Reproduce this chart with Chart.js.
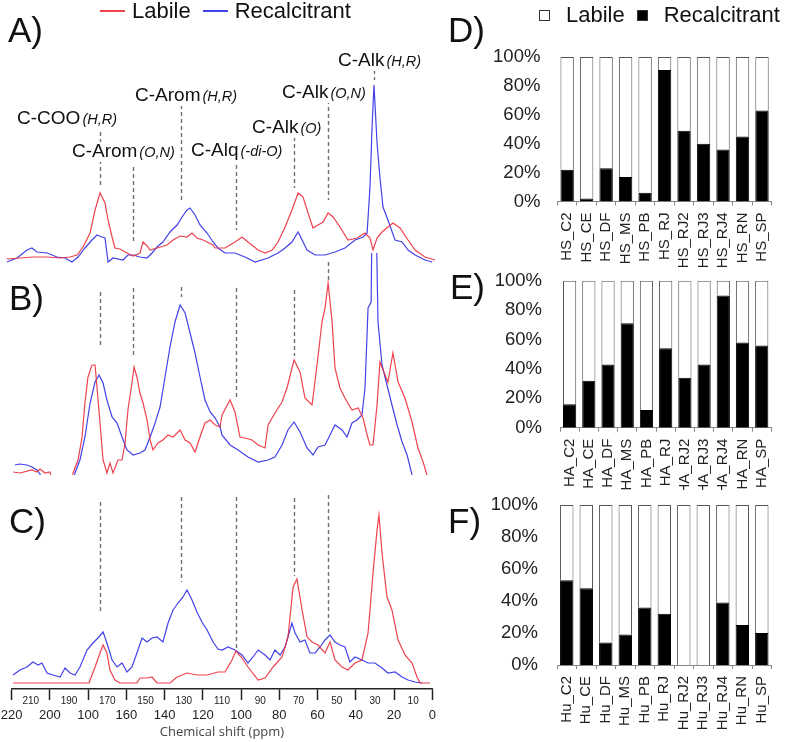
<!DOCTYPE html>
<html>
<head>
<meta charset="utf-8">
<title>Espectros y fracciones lábil / recalcitrante</title>
<script src="https://cdn.jsdelivr.net/npm/chart.js@4.4.6/dist/chart.umd.min.js"></script>
<style>
  body { margin: 0; background: #fff; }
  #wrap { position: relative; width: 787px; height: 742px; overflow: hidden; font-family: 'Liberation Sans', Arial, sans-serif; }
  #wrap canvas { position: absolute; }
  .panel { position: absolute; font-size: 35px; line-height: 1; color: #111; }
  .legend { position: absolute; font-size: 22px; line-height: 22px; color: #111; display: flex; align-items: center; white-space: nowrap; }
  #barLegend { left: 539px; top: 4px; }
  #barLegend .sw { display: inline-block; width: 9px; height: 9px; border: 1px solid #333; margin-right: 16px; }
  #barLegend .txt { margin-right: 12px; }
  #lineLegend { left: 100px; top: 0px; }
  #lineLegend .sw { display: inline-block; width: 25px; height: 2px; margin-right: 7px; }
  #lineLegend .txt { margin-right: 12px; }
</style>
</head>
<body>
<div id="wrap">
  <canvas id="chartA" width="440" height="279" style="left:0;top:-9px"></canvas>
  <canvas id="chartB" width="440" height="222" style="left:0;top:253px"></canvas>
  <canvas id="chartC" width="440" height="262" style="left:0;top:480px"></canvas>
  <canvas id="chartD" width="317" height="268" style="left:470px;top:0"></canvas>
  <canvas id="chartE" width="317" height="222" style="left:470px;top:268px"></canvas>
  <canvas id="chartF" width="317" height="252" style="left:470px;top:490px"></canvas>
  <div class="panel" style="left:8px;top:12px">A)</div>
  <div class="panel" style="left:9px;top:280px">B)</div>
  <div class="panel" style="left:9px;top:503px">C)</div>
  <div class="panel" style="left:448px;top:12px">D)</div>
  <div class="panel" style="left:450px;top:269px">E)</div>
  <div class="panel" style="left:448px;top:503px">F)</div>
  <div id="lineLegend" class="legend"></div>
  <div id="barLegend" class="legend"></div>
</div>
<script>
// series names
const seriesNames = ['Labile', 'Recalcitrant'];

// spectra: [chemical shift (ppm), intensity]
const labileA = [[222.6,6],[215.7,7],[208.9,8],[201.5,8],[194.7,7],[189.5,8],[185.8,10],[182.7,18],[179.0,32],[176.4,55],[173.8,72],[171.2,62],[169.6,45],[167.5,28],[166.0,17],[163.4,16],[159.7,12],[156.5,9],[152.9,12],[151.3,23],[149.2,19],[147.6,15],[144.0,17],[138.8,20],[135.6,25],[131.9,29],[128.3,28],[125.7,32],[123.1,27],[119.9,25],[114.7,20],[113.6,17],[108.4,17],[103.2,23],[99.5,28],[96.4,23],[91.1,15],[87.5,12],[83.8,15],[80.7,23],[77.0,38],[73.4,55],[70.2,72],[67.6,68],[65.0,52],[62.4,37],[59.8,40],[57.1,43],[54.5,52],[51.9,48],[48.3,38],[44.1,25],[39.4,27],[35.2,32],[32.6,27],[31.0,15],[28.9,27],[26.3,33],[23.2,38],[20.6,42],[16.9,37],[12.7,25],[9.0,15],[3.8,8],[-1.4,5]];
const recalA = [[222.5,3],[217.2,7],[212.0,15],[209.4,17],[206.8,13],[201.5,12],[196.3,8],[192.1,7],[188.5,3],[185.3,8],[181.7,17],[178.0,25],[175.4,30],[172.8,28],[171.2,27],[169.6,3],[167.0,7],[161.8,5],[159.2,10],[156.5,10],[152.9,8],[149.2,7],[146.6,12],[144.0,18],[140.9,23],[137.2,33],[133.5,40],[130.9,48],[128.3,55],[126.7,57],[124.1,50],[121.5,40],[117.8,32],[114.7,23],[112.1,17],[108.4,12],[103.2,12],[98.0,8],[92.7,3],[85.9,7],[80.7,12],[77.0,17],[73.4,23],[70.2,33],[68.1,25],[65.5,15],[61.3,10],[56.1,10],[50.9,13],[45.7,17],[40.4,25],[36.2,28],[34.1,32],[32.6,78],[31.5,138],[30.5,180],[28.9,122],[27.4,88],[25.8,58],[23.2,45],[19.5,25],[15.8,23],[12.7,15],[9.0,10],[3.8,5],[0.1,3]];

const labileB = [[219.3,3],[215.7,2],[209.4,5],[206.8,3],[205.2,6],[202.6,2],[200.0,3],[198.5,-10],[188.5,-10],[187.9,2],[185.3,15],[183.2,38],[181.7,72],[180.1,98],[178.0,110],[176.4,110],[175.4,88],[173.8,52],[172.2,15],[170.2,2],[168.6,12],[167.0,2],[164.4,15],[162.3,15],[160.7,32],[159.2,65],[157.1,92],[156.0,108],[154.5,98],[152.9,82],[151.3,72],[149.2,55],[147.6,35],[146.1,25],[143.5,32],[140.9,35],[138.2,40],[135.6,38],[131.9,45],[129.3,35],[126.7,32],[124.1,23],[121.5,38],[118.9,52],[116.2,55],[113.6,50],[111.0,48],[110.0,60],[105.8,75],[103.2,63],[100.6,38],[98.0,37],[94.3,35],[91.1,30],[87.5,27],[85.9,50],[82.3,62],[78.6,73],[76.0,87],[72.3,115],[69.2,103],[66.6,77],[62.9,70],[60.3,110],[57.7,153],[56.1,167],[54.5,192],[52.4,153],[50.9,107],[48.3,87],[45.7,77],[42.0,65],[38.8,67],[36.2,57],[34.1,40],[32.6,30],[31.0,30],[28.9,70],[27.4,113],[24.7,100],[23.2,93],[20.6,122],[17.9,93],[14.3,77],[10.6,53],[7.5,27],[4.8,13],[2.8,0],[0.0,-10]];
const recalB = [[218.3,10],[215.7,11],[212.0,10],[209.4,8],[206.8,5],[205.2,1],[204.2,-10],[187.9,-10],[186.9,2],[184.3,15],[181.7,38],[179.0,72],[176.4,93],[174.3,100],[172.2,92],[170.2,75],[167.5,58],[164.9,52],[162.3,38],[159.7,25],[156.5,20],[152.9,22],[150.3,25],[147.6,38],[145.0,52],[142.4,68],[139.8,98],[137.2,128],[134.6,153],[131.9,170],[129.3,162],[126.7,142],[124.1,122],[121.5,98],[118.9,75],[116.2,63],[113.6,57],[111.0,48],[110.0,40],[105.8,30],[101.6,25],[96.4,18],[91.1,13],[85.9,15],[82.3,18],[78.6,30],[75.5,45],[72.3,53],[69.2,43],[65.5,27],[62.4,20],[59.8,28],[56.1,30],[53.5,40],[50.9,50],[47.2,45],[44.6,38],[42.0,52],[39.4,55],[36.8,60],[35.2,87],[33.6,167],[32.0,173],[31.5,260],[29.4,260],[28.4,153],[26.3,110],[23.7,90],[21.1,70],[18.4,50],[15.8,33],[13.2,20],[10.6,0],[8.0,-10]];

const labileC = [[219.3,6],[179.5,6],[179.0,9],[176.4,22],[173.8,36],[172.2,44],[170.2,36],[168.6,19],[166.0,9],[163.4,6],[154.5,6],[152.9,11],[149.2,11],[146.6,12],[144.0,6],[137.2,6],[133.5,12],[128.3,16],[123.1,14],[117.8,14],[112.1,17],[108.4,17],[104.8,29],[102.7,38],[99.5,31],[96.4,22],[91.1,9],[87.5,11],[83.3,22],[78.6,32],[75.5,52],[72.8,102],[70.8,110],[68.1,79],[65.5,52],[62.9,47],[59.8,44],[56.1,36],[53.5,47],[50.9,29],[47.2,22],[44.1,19],[40.4,26],[36.8,29],[33.6,56],[31.0,116],[28.9,159],[27.9,174],[26.3,136],[23.7,92],[21.1,79],[17.9,49],[14.3,34],[10.6,26],[8.0,12],[6.4,6],[1.2,6]];
const recalC = [[219.3,14],[215.7,19],[212.0,22],[208.9,27],[206.2,24],[204.2,26],[201.5,16],[198.4,14],[194.7,12],[192.1,21],[189.5,16],[186.9,14],[184.3,22],[180.6,39],[177.5,46],[174.9,51],[172.2,57],[170.2,46],[167.5,29],[164.9,22],[162.3,26],[159.7,17],[157.1,22],[154.5,36],[151.8,51],[149.2,47],[146.6,51],[144.0,52],[140.9,47],[138.2,66],[135.6,79],[133.0,86],[130.4,92],[128.3,99],[125.7,89],[123.1,77],[120.5,67],[117.8,59],[114.7,47],[112.1,40],[110.0,39],[106.8,42],[103.2,39],[99.5,34],[96.4,26],[93.8,32],[91.1,39],[87.5,34],[84.9,29],[82.3,39],[79.6,34],[77.0,42],[75.5,52],[73.4,66],[71.8,56],[69.2,47],[66.6,49],[64.0,36],[61.3,36],[58.7,42],[56.1,49],[53.5,54],[50.9,47],[48.3,44],[45.7,42],[43.1,27],[40.4,32],[36.8,29],[33.6,26],[30.0,26],[26.3,21],[23.2,16],[19.5,17],[15.8,12],[12.7,9],[9.0,7],[5.4,6]];

// carbon groups marked on the spectra
const groupNames = ['C-COO', 'C-Arom', 'C-Arom', 'C-Alq', 'C-Alk', 'C-Alk', 'C-Alk'];
const groupSub = ['(H,R)', '(O,N)', '(H,R)', '(-di-O)', '(O)', '(O,N)', '(H,R)'];
const groupShift = [174, 156.5, 131.5, 102.8, 72.3, 54.5, 30.5];

// bottom axis ticks (the printed axis reads "100" at the 180 position)
const majorTicks = [220, 200, 180, 160, 140, 120, 100, 80, 60, 40, 20, 0];
const majorTickText = ['220', '200', '100', '160', '140', '120', '100', '80', '60', '40', '20', '0'];
const minorTicks = [210, 190, 170, 150, 130, 110, 90, 70, 50, 30, 10];

// bar charts (%)
const samplesD = ['HS_C2','HS_CE','HS_DF','HS_MS','HS_PB','HS_RJ','HS_RJ2','HS_RJ3','HS_RJ4','HS_RN','HS_SP'];
const recalD  = [22, 2, 23, 17, 6, 91, 49, 40, 36, 45, 63];
const labileD = [78, 98, 77, 83, 94, 9, 51, 60, 64, 55, 37];
const samplesE = ['HA_C2','HA_CE','HA_DF','HA_MS','HA_PB','HA_RJ','HA_RJ2','HA_RJ3','HA_RJ4','HA_RN','HA_SP'];
const recalE  = [16, 32, 43, 71, 12, 54, 34, 43, 90, 58, 56];
const labileE = [84, 68, 57, 29, 88, 46, 66, 57, 10, 42, 44];
const samplesF = ['Hu_C2','Hu_CE','Hu_DF','Hu_MS','Hu_PB','Hu_RJ','Hu_RJ2','Hu_RJ3','Hu_RJ4','Hu_RN','Hu_SP'];
const recalF  = [53, 48, 14, 19, 36, 32, 0, 0, 39, 25, 20];
const labileF = [47, 52, 86, 81, 64, 68, 100, 100, 61, 75, 80];

Chart.defaults.font.family = "'Liberation Sans', Arial, sans-serif";
Chart.defaults.color = '#222';

const redCol = 'rgba(236,45,60,0.9)';
const blueCol = 'rgba(45,45,230,0.9)';

const toXY = (arr) => arr.map(p => ({ x: p[0], y: p[1] }));
const isMajor = (v) => majorTicks.indexOf(v) >= 0;

// dashed marker lines + group labels
const markerPlugin = {
  id: 'markers',
  beforeDatasetsDraw(chart, args, opts) {
    const { ctx, scales: { x, y } } = chart;
    ctx.save();
    ctx.strokeStyle = '#707070';
    ctx.lineWidth = 1.4;
    ctx.setLineDash([4, 3]);
    (opts.lines || []).forEach(l => {
      const px = Math.round(x.getPixelForValue(groupShift[l[0]])) + 0.5;
      ctx.beginPath();
      ctx.moveTo(px, y.getPixelForValue(l[1]));
      ctx.lineTo(px, y.getPixelForValue(l[2]));
      ctx.stroke();
    });
    ctx.restore();
  },
  afterDatasetsDraw(chart, args, opts) {
    if (!opts.labels) return;
    const { ctx, scales: { x, y } } = chart;
    ctx.save();
    ctx.textBaseline = 'alphabetic';
    opts.labels.forEach((pos, i) => {
      const px = x.getPixelForValue(pos[0]);
      const py = y.getPixelForValue(pos[1]);
      ctx.font = "19px 'Liberation Sans', Arial, sans-serif";
      const w1 = ctx.measureText(groupNames[i]).width;
      ctx.font = "italic 14.5px 'Liberation Sans', Arial, sans-serif";
      const w2 = ctx.measureText(groupSub[i]).width;
      ctx.fillStyle = '#fff';
      ctx.fillRect(px - 1, py - 15, w1 + w2 + 4, 20);
      ctx.fillStyle = '#111';
      ctx.font = "19px 'Liberation Sans', Arial, sans-serif";
      ctx.fillText(groupNames[i], px, py);
      ctx.font = "italic 14.5px 'Liberation Sans', Arial, sans-serif";
      ctx.fillText(groupSub[i], px + w1 + 2, py);
    });
    ctx.restore();
  }
};

function spectrum(id, red, blue, yMax, cfg) {
  const showAxis = !!cfg.axis;
  return new Chart(document.getElementById(id), {
    type: 'line',
    data: {
      datasets: [
        { label: seriesNames[0], data: toXY(red), borderColor: redCol, borderWidth: 1.2, pointRadius: 0, tension: 0, clip: cfg.clip },
        { label: seriesNames[1], data: toXY(blue), borderColor: blueCol, borderWidth: 1.2, pointRadius: 0, tension: 0, clip: cfg.clip }
      ]
    },
    options: {
      responsive: false,
      animation: false,
      layout: { padding: { left: 11.7, right: 7.7, top: 0, bottom: cfg.bottom || 0 } },
      scales: {
        x: {
          type: 'linear', reverse: true, min: 0, max: 220, display: showAxis,
          afterBuildTicks: (s) => {
            s.ticks = majorTicks.concat(minorTicks).sort((a, b) => a - b).map(v => ({ value: v }));
          },
          ticks: {
            autoSkip: false, maxRotation: 0, padding: -5, color: '#222',
            callback: (v) => isMajor(v) ? majorTickText[majorTicks.indexOf(v)] : String(v),
            // the two label rows come from the line height of each tick font
            font: (c) => (c.tick && isMajor(c.tick.value)) ? { size: 13, lineHeight: '40px' } : { size: 10, lineHeight: '13px' }
          },
          grid: {
            drawOnChartArea: false, tickLength: 11, tickWidth: 1.5,
            tickColor: (c) => (c.tick && isMajor(c.tick.value)) ? '#222' : 'rgba(0,0,0,0)'
          },
          border: { color: '#222', width: 1.5 },
          title: {
            display: true, text: 'Chemical shift (ppm)', color: '#444',
            font: { family: "'Open Sans', sans-serif", size: 13 }, padding: { top: 0, bottom: 2 }
          },
          afterFit: (s) => {
            if (!showAxis) return;
            s.height = 53;
            s.paddingLeft = 0;
            s.paddingRight = 0;
          }
        },
        y: { display: false, min: 0, max: yMax }
      },
      plugins: {
        legend: { display: false },
        tooltip: { enabled: false },
        markers: { lines: cfg.lines, labels: cfg.labels }
      }
    },
    plugins: [markerPlugin]
  });
}

spectrum('chartA', labileA, recalA, 274, {
  bottom: 5, clip: false,
  lines: [[0,133,78],[1,98,22],[2,160,65],[3,100,35],[4,128,77],[5,165,65],[6,195,185]],
  labels: [[217.2,141],[188.5,108],[155.5,164],[126.2,109],[94.3,132],[78.6,167],[49.3,199]]
});
spectrum('chartB', labileB, recalB, 222, {
  clip: { left: 10, right: 10, top: 0, bottom: 0 },
  lines: [[0,183,127],[1,187,120],[2,188,178],[3,187,77],[4,185,119],[5,213,195]]
});
spectrum('chartC', labileC, recalC, 209, {
  axis: true, clip: false,
  lines: [[0,187,76],[2,192,107],[3,192,41],[4,191,113],[5,194,56]]
});

function shareChart(id, names, rec, lab, box) {
  return new Chart(document.getElementById(id), {
    type: 'bar',
    data: {
      labels: names,
      datasets: [
        { label: seriesNames[1], data: rec, backgroundColor: '#000', borderColor: '#000', borderWidth: 1 },
        { label: seriesNames[0], data: lab, backgroundColor: '#fff', borderColor: '#555', borderWidth: 1 }
      ]
    },
    options: {
      responsive: false,
      animation: false,
      layout: { padding: { top: box.top, right: box.right, left: 0, bottom: 0 } },
      datasets: { bar: { barPercentage: 0.85, categoryPercentage: 0.81 } },
      scales: {
        x: {
          stacked: true,
          grid: { drawOnChartArea: false, tickLength: 4, color: '#888' },
          border: { color: '#888' },
          ticks: { font: { size: 15 }, color: '#222', minRotation: 90, maxRotation: 90, autoSkip: false, padding: 7 },
          afterFit: (s) => { s.height = box.axisH; }
        },
        y: {
          stacked: true, min: 0, max: 100,
          grid: { display: false, drawTicks: false },
          border: { display: false },
          ticks: { stepSize: 20, callback: (v) => v + '%', font: { size: 18.5 }, color: '#222', padding: box.pad },
          afterFit: (s) => {
            s.width = box.axisW;
            // keep the label gap from pushing the plot down
            s.paddingTop = 11;
            s.paddingBottom = 11;
          }
        }
      },
      plugins: { legend: { display: false }, tooltip: { enabled: false } }
    }
  });
}

shareChart('chartD', samplesD, recalD, labileD, { top: 57, right: 0, axisH: 66.5, axisW: 87.4, pad: 17 });
shareChart('chartE', samplesE, recalE, labileE, { top: 12.7, right: 6, axisH: 62.3, axisW: 90, pad: 18 });
shareChart('chartF', samplesF, recalF, labileF, { top: 15, right: 4, axisH: 77, axisW: 87, pad: 19 });

// legends
function buildLegend(id, items) {
  const el = document.getElementById(id);
  items.forEach(([name, fill]) => {
    const sw = document.createElement('span');
    sw.className = 'sw';
    sw.style.backgroundColor = fill;
    const t = document.createElement('span');
    t.className = 'txt';
    t.textContent = name;
    el.appendChild(sw);
    el.appendChild(t);
  });
}
buildLegend('lineLegend', [[seriesNames[0], redCol], [seriesNames[1], blueCol]]);
buildLegend('barLegend', [[seriesNames[0], '#fff'], [seriesNames[1], '#000']]);
</script>
</body>
</html>
